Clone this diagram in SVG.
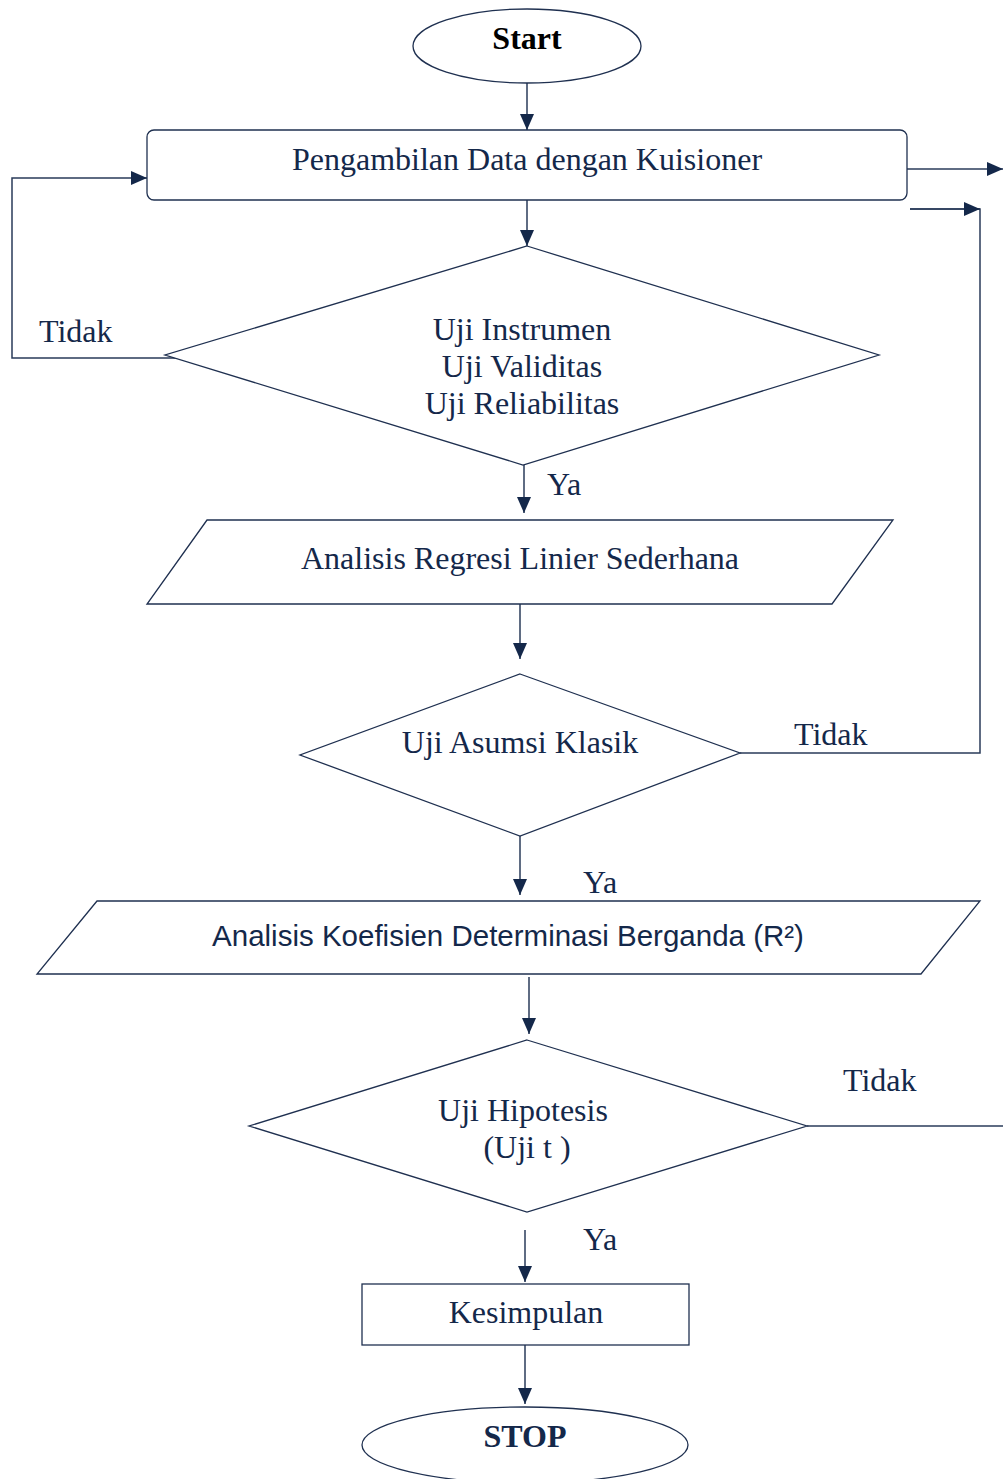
<svg xmlns="http://www.w3.org/2000/svg" width="1003" height="1479" viewBox="0 0 1003 1479">
<defs>
<marker id="ah" markerUnits="userSpaceOnUse" markerWidth="16" markerHeight="16" viewBox="0 0 16 16" refX="16" refY="8" orient="auto">
<path d="M0,1 L16,8 L0,15 Z" fill="#14284a"/>
</marker>
<style>
.s{fill:#fff;stroke:#1f3050;stroke-width:1.3}
.c{fill:none;stroke:#2a3b5a;stroke-width:1.5}
.t{font-family:"Liberation Serif","Times New Roman",serif;font-size:32px;fill:#14284a;text-anchor:middle}
.l{font-family:"Liberation Serif","Times New Roman",serif;font-size:32px;fill:#14284a}
.a{font-family:"Liberation Sans",Arial,sans-serif;font-size:29.5px;fill:#14284a;text-anchor:middle}
.b{font-weight:bold}
</style>
</defs>
<rect width="1003" height="1479" fill="#fff"/>
<g id="connectors">
<line class="c" x1="527" y1="83" x2="527" y2="130" marker-end="url(#ah)"/>
<line class="c" x1="907" y1="169" x2="1003" y2="169" marker-end="url(#ah)"/>
<polyline class="c" points="740,753 980,753 980,209 910,209" />
<line class="c" x1="910" y1="209" x2="980" y2="209" marker-end="url(#ah)"/>
<line class="c" x1="527" y1="200" x2="527" y2="246" marker-end="url(#ah)"/>
<polyline class="c" points="178,358 12,358 12,178 147,178" marker-end="url(#ah)"/>
<line class="c" x1="524" y1="455" x2="524" y2="513" marker-end="url(#ah)"/>
<line class="c" x1="520" y1="604" x2="520" y2="659" marker-end="url(#ah)"/>
<line class="c" x1="520" y1="836" x2="520" y2="895" marker-end="url(#ah)"/>
<line class="c" x1="529" y1="977" x2="529" y2="1034" marker-end="url(#ah)"/>
<line class="c" x1="807" y1="1126" x2="1003" y2="1126"/>
<line class="c" x1="525" y1="1230" x2="525" y2="1282" marker-end="url(#ah)"/>
<line class="c" x1="525" y1="1345" x2="525" y2="1404" marker-end="url(#ah)"/>
<text class="l" x="39" y="342">Tidak</text>
<text class="l" x="547" y="495">Ya</text>
<text class="l" x="794" y="745">Tidak</text>
<text class="l" x="583" y="893">Ya</text>
<text class="l" x="843" y="1091">Tidak</text>
<text class="l" x="583" y="1250">Ya</text>
</g>
<g id="start">
<ellipse class="s" cx="527" cy="46" rx="114" ry="37"/>
<text class="t b" x="527" y="49" style="fill:#000">Start</text>
</g>
<g id="pengambilan">
<rect class="s" x="147" y="130" width="760" height="70" rx="7"/>
<text class="t" x="527" y="170">Pengambilan Data dengan Kuisioner</text>
</g>
<g id="uji-instrumen">
<polygon class="s" points="527,246 879,355 523,465 165,355"/>
<text class="t" x="522" y="340">Uji Instrumen</text>
<text class="t" x="522" y="377">Uji Validitas</text>
<text class="t" x="522" y="414">Uji Reliabilitas</text>
</g>
<g id="regresi">
<polygon class="s" points="207,520 893,520 832,604 147,604"/>
<text class="t" x="520" y="569">Analisis Regresi Linier Sederhana</text>
</g>
<g id="asumsi">
<polygon class="s" points="520,674 740,753 520,836 300,755"/>
<text class="t" x="520" y="753">Uji Asumsi Klasik</text>
</g>
<g id="koefisien">
<polygon class="s" points="97,901 980,901 921,974 37,974"/>
<text class="a" x="508" y="946">Analisis Koefisien Determinasi Berganda (R²)</text>
</g>
<g id="hipotesis">
<polygon class="s" points="527,1040 807,1126 527,1212 249,1126"/>
<text class="t" x="523" y="1121">Uji Hipotesis</text>
<text class="t" x="527" y="1158">(Uji t )</text>
</g>
<g id="kesimpulan">
<rect class="s" x="362" y="1284" width="327" height="61"/>
<text class="t" x="526" y="1323">Kesimpulan</text>
</g>
<g id="stop">
<ellipse class="s" cx="525" cy="1445" rx="163" ry="38"/>
<text class="t b" x="525" y="1447">STOP</text>
</g>
</svg>
